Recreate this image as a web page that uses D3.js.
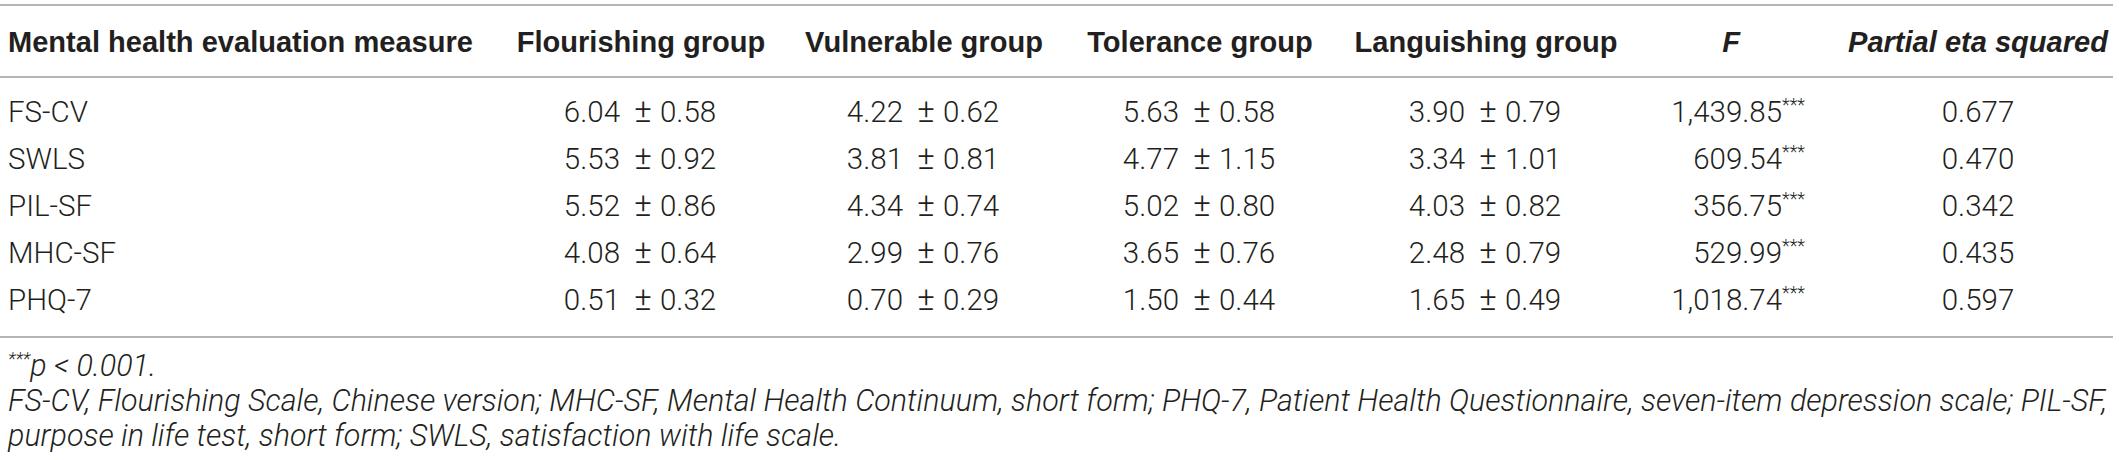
<!DOCTYPE html>
<html>
<head>
<meta charset="utf-8">
<script src="https://cdn.jsdelivr.net/npm/d3@7"></script>
<style>
  body { margin: 0; background: #fff; }
  text { fill: #231f20; }
  .body { font-family: Roboto, "Liberation Sans", sans-serif; font-weight: 300; font-size: 29.5px; }
  .pm { font-size: 33px; }
  .head { font-family: "Liberation Sans", Arial, sans-serif; font-weight: bold; font-size: 29px; }
  .note { font-family: Roboto, "Liberation Sans", sans-serif; font-weight: 300; font-style: italic; font-size: 30px; }
  .rule { stroke: #9d9d9d; stroke-width: 1.6; }
</style>
</head>
<body>
<div id="table"></div>
<script>
// table values
var measures = ["FS-CV", "SWLS", "PIL-SF", "MHC-SF", "PHQ-7"];
var groups = ["Flourishing group", "Vulnerable group", "Tolerance group", "Languishing group"];

var flourishingMean = [6.04, 5.53, 5.52, 4.08, 0.51];
var flourishingSd   = [0.58, 0.92, 0.86, 0.64, 0.32];
var vulnerableMean  = [4.22, 3.81, 4.34, 2.99, 0.70];
var vulnerableSd    = [0.62, 0.81, 0.74, 0.76, 0.29];
var toleranceMean   = [5.63, 4.77, 5.02, 3.65, 1.50];
var toleranceSd     = [0.58, 1.15, 0.80, 0.76, 0.44];
var languishingMean = [3.90, 3.34, 4.03, 2.48, 1.65];
var languishingSd   = [0.79, 1.01, 0.82, 0.79, 0.49];

var fValues = [1439.85, 609.54, 356.75, 529.99, 1018.74];
var etaSquared = [0.677, 0.470, 0.342, 0.435, 0.597];

var footnotes = [
  "FS-CV, Flourishing Scale, Chinese version; MHC-SF, Mental Health Continuum, short form; PHQ-7, Patient Health Questionnaire, seven-item depression scale; PIL-SF,",
  "purpose in life test, short form; SWLS, satisfaction with life scale."
];

var means = [flourishingMean, vulnerableMean, toleranceMean, languishingMean];
var sds = [flourishingSd, vulnerableSd, toleranceSd, languishingSd];

var width = 2119, height = 460;

var svg = d3.select("#table").append("svg")
    .attr("width", width)
    .attr("height", height);

var columns = ["measure"].concat(groups, ["F", "eta"]);
var x = d3.scaleOrdinal()
    .domain(columns)
    .range([8, 641, 924, 1200, 1486, 1731, 1978]);
var fRight = 1805;
// offsets of mean end / ± / sd start from the cell centre
var meanEnd = -21, pmMid = 2, sdStart = 19;

var y = d3.scalePoint()
    .domain(measures)
    .range([122, 310]);

var fmt2 = d3.format(".2f"),
    fmtF = d3.format(",.2f"),
    fmt3 = d3.format(".3f");

// scale a font so a text gets the wanted width
function fitFont(sel, want) {
    var w = sel.node().getComputedTextLength();
    var fs = parseFloat(sel.style("font-size"));
    return fs * want / w;
}

// rules
svg.selectAll("line.rule")
    .data([5, 77, 337])
    .enter().append("line")
    .attr("class", "rule")
    .attr("x1", 0).attr("x2", 2113)
    .attr("y1", function(d){ return d; })
    .attr("y2", function(d){ return d; });

// header
var headY = 52;
var first = svg.append("text").attr("class", "head")
    .attr("x", x("measure")).attr("y", headY)
    .text("Mental health evaluation measure");
var headSize = fitFont(first, 465);

svg.selectAll("text.grouphead")
    .data(groups)
    .enter().append("text")
    .attr("class", "head grouphead")
    .attr("x", function(d){ return x(d); })
    .attr("y", headY)
    .attr("text-anchor", "middle")
    .text(function(d){ return d; });

svg.append("text").attr("class", "head")
    .attr("x", x("F")).attr("y", headY)
    .attr("text-anchor", "middle")
    .style("font-style", "italic")
    .text("F");

svg.append("text").attr("class", "head")
    .attr("x", x("eta")).attr("y", headY)
    .attr("text-anchor", "middle")
    .style("font-style", "italic")
    .text("Partial eta squared");

svg.selectAll("text.head").style("font-size", headSize + "px");

// row labels
svg.selectAll("text.label")
    .data(measures)
    .enter().append("text")
    .attr("class", "body label")
    .attr("x", x("measure"))
    .attr("y", function(d){ return y(d); })
    .text(function(d){ return d; });

// group cells: mean, ±, sd
groups.forEach(function(g, gi){
    var cx = x(g);
    var rows = svg.selectAll("g.cells" + gi)
        .data(measures)
        .enter().append("g")
        .attr("class", "cells" + gi)
        .attr("transform", function(d){ return "translate(" + cx + "," + y(d) + ")"; });
    rows.append("text")
        .attr("class", "body")
        .attr("x", meanEnd)
        .attr("text-anchor", "end")
        .text(function(d, i){ return fmt2(means[gi][i]); });
    rows.append("text")
        .attr("class", "body pm")
        .attr("x", pmMid)
        .attr("text-anchor", "middle")
        .text("\u00b1");
    rows.append("text")
        .attr("class", "body")
        .attr("x", sdStart)
        .text(function(d, i){ return fmt2(sds[gi][i]); });
});

// F values with stars
var fText = svg.selectAll("text.fval")
    .data(measures)
    .enter().append("text")
    .attr("class", "body fval")
    .attr("x", fRight)
    .attr("y", function(d){ return y(d); })
    .attr("text-anchor", "end");
fText.append("tspan").text(function(d, i){ return fmtF(fValues[i]); });
fText.append("tspan")
    .attr("dy", -11)
    .style("font-size", "18px")
    .text("***");

// partial eta squared
svg.selectAll("text.eta")
    .data(measures)
    .enter().append("text")
    .attr("class", "body eta")
    .attr("x", x("eta"))
    .attr("y", function(d){ return y(d); })
    .attr("text-anchor", "middle")
    .text(function(d, i){ return fmt3(etaSquared[i]); });

// footnotes
var p = svg.append("text").attr("class", "note")
    .attr("x", x("measure")).attr("y", 376);
p.append("tspan").attr("dy", -11).style("font-size", "18px").text("***");
p.append("tspan").attr("dy", 11).text("p < 0.001.");

var foot = svg.selectAll("text.foot")
    .data(footnotes)
    .enter().append("text")
    .attr("class", "note foot")
    .attr("x", x("measure"))
    .attr("y", function(d, i){ return 411 + i * 35; })
    .text(function(d){ return d; });

var noteSize = fitFont(foot.filter(function(d, i){ return i === 0; }), 2100);
svg.selectAll("text.note").style("font-size", noteSize + "px");
</script>
</body>
</html>
